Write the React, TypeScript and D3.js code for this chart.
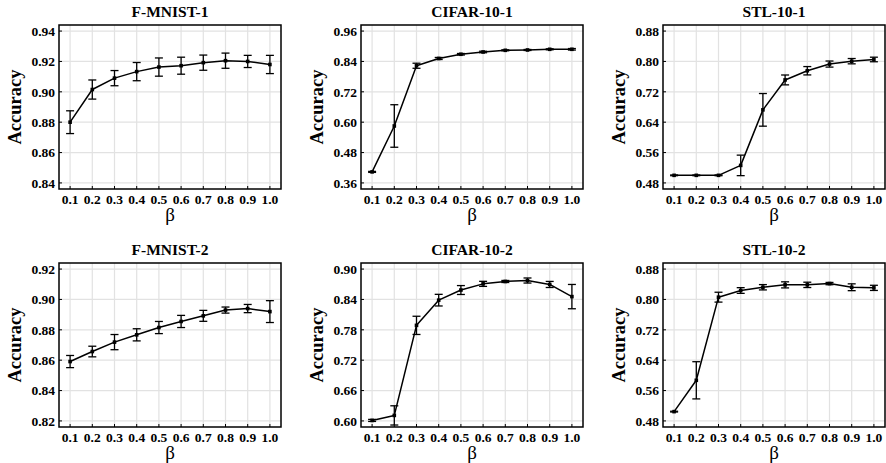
import React from 'react';
import * as d3 from 'd3';

const width = 886;
const height = 463;

const betas = [0.1, 0.2, 0.3, 0.4, 0.5, 0.6, 0.7, 0.8, 0.9, 1.0];

const fmnist1Mean = [0.880, 0.9015, 0.909, 0.9133, 0.9163, 0.9172, 0.9192, 0.9205, 0.920, 0.918];
const fmnist1Err = [0.0075, 0.0063, 0.005, 0.006, 0.006, 0.0056, 0.005, 0.005, 0.004, 0.006];
const fmnist1Ticks = [0.84, 0.86, 0.88, 0.90, 0.92, 0.94];

const cifar1Mean = [0.4036, 0.585, 0.823, 0.8517, 0.8684, 0.8774, 0.884, 0.8853, 0.888, 0.888];
const cifar1Err = [0.002, 0.084, 0.01, 0.004, 0.003, 0.003, 0.002, 0.002, 0.002, 0.003];
const cifar1Ticks = [0.36, 0.48, 0.60, 0.72, 0.84, 0.96];

const stl1Mean = [0.50, 0.50, 0.50, 0.5262, 0.6725, 0.7513, 0.7755, 0.7931, 0.8007, 0.8052];
const stl1Err = [0.001, 0.001, 0.001, 0.027, 0.043, 0.013, 0.011, 0.008, 0.007, 0.006];
const stl1Ticks = [0.48, 0.56, 0.64, 0.72, 0.80, 0.88];

const fmnist2Mean = [0.8591, 0.8657, 0.8719, 0.8767, 0.8815, 0.8855, 0.8892, 0.893, 0.894, 0.892];
const fmnist2Err = [0.004, 0.0035, 0.005, 0.004, 0.004, 0.004, 0.0036, 0.002, 0.0027, 0.0072];
const fmnist2Ticks = [0.82, 0.84, 0.86, 0.88, 0.90, 0.92];

const cifar2Mean = [0.601, 0.6109, 0.7888, 0.8386, 0.8586, 0.8708, 0.8755, 0.8774, 0.8696, 0.8456];
const cifar2Err = [0.002, 0.019, 0.018, 0.0115, 0.0088, 0.005, 0.002, 0.005, 0.006, 0.024];
const cifar2Ticks = [0.60, 0.66, 0.72, 0.78, 0.84, 0.90];

const stl2Mean = [0.5045, 0.587, 0.806, 0.8235, 0.8321, 0.8384, 0.8384, 0.8418, 0.8321, 0.8305];
const stl2Err = [0.001, 0.049, 0.013, 0.0075, 0.007, 0.008, 0.007, 0.003, 0.009, 0.0068];
const stl2Ticks = [0.48, 0.56, 0.64, 0.72, 0.80, 0.88];

const panels = [
  { title: 'F-MNIST-1', mean: fmnist1Mean, err: fmnist1Err, ticks: fmnist1Ticks },
  { title: 'CIFAR-10-1', mean: cifar1Mean, err: cifar1Err, ticks: cifar1Ticks },
  { title: 'STL-10-1', mean: stl1Mean, err: stl1Err, ticks: stl1Ticks },
  { title: 'F-MNIST-2', mean: fmnist2Mean, err: fmnist2Err, ticks: fmnist2Ticks },
  { title: 'CIFAR-10-2', mean: cifar2Mean, err: cifar2Err, ticks: cifar2Ticks },
  { title: 'STL-10-2', mean: stl2Mean, err: stl2Err, ticks: stl2Ticks },
];

const colLeft = [59, 361, 663];
const rowTop = [25, 263];
const plotW = 222;
const plotH = 164;
const font = '"Liberation Serif", "Times New Roman", serif';

const Panel = ({ p, left, top }) => {
  const t0 = p.ticks[0];
  const t1 = p.ticks[p.ticks.length - 1];
  const pad = (t1 - t0) * 0.04;
  const x = d3.scaleLinear().domain([0.05, 1.05]).range([0, plotW]);
  const y = d3.scaleLinear().domain([t0 - pad, t1 + pad]).range([plotH, 0]);
  const fmt = d3.format('.2f');
  const line = d3.line<number>()
    .x((d, i) => x(betas[i]))
    .y(d => y(d));

  return (
    <g transform={`translate(${left},${top})`}>
      {betas.map(b => (
        <line key={'gx' + b} x1={x(b)} x2={x(b)} y1={0} y2={plotH} stroke="#e2e2e2" strokeWidth={1.2} />
      ))}
      {p.ticks.map(t => (
        <line key={'gy' + t} x1={0} x2={plotW} y1={y(t)} y2={y(t)} stroke="#e2e2e2" strokeWidth={1.2} />
      ))}
      {betas.map(b => (
        <line key={'tx' + b} x1={x(b)} x2={x(b)} y1={plotH} y2={plotH - 3} stroke="#000" strokeWidth={1} />
      ))}
      {p.ticks.map(t => (
        <line key={'ty' + t} x1={0} x2={3} y1={y(t)} y2={y(t)} stroke="#000" strokeWidth={1} />
      ))}
      <path d={line(p.mean)} fill="none" stroke="#000" strokeWidth={1.5} strokeLinejoin="round" />
      {p.mean.map((m, i) => {
        const cx = x(betas[i]);
        const yt = y(m + p.err[i]);
        const yb = y(m - p.err[i]);
        return (
          <g key={'e' + i}>
            <line x1={cx} x2={cx} y1={yt} y2={yb} stroke="#000" strokeWidth={1.3} />
            <line x1={cx - 4} x2={cx + 4} y1={yt} y2={yt} stroke="#000" strokeWidth={1.3} />
            <line x1={cx - 4} x2={cx + 4} y1={yb} y2={yb} stroke="#000" strokeWidth={1.3} />
            <rect x={cx - 1.8} y={y(m) - 1.8} width={3.6} height={3.6} fill="#000" />
          </g>
        );
      })}
      <rect x={0} y={0} width={plotW} height={plotH} fill="none" stroke="#000" strokeWidth={1.5} />
      {p.ticks.map(t => (
        <text key={'ly' + t} x={-4} y={y(t)} dy="0.35em" textAnchor="end"
          fontFamily={font} fontWeight="bold" fontSize={13.5}>{fmt(t)}</text>
      ))}
      {betas.map(b => (
        <text key={'lx' + b} x={x(b)} y={plotH + 14.5} textAnchor="middle"
          fontFamily={font} fontWeight="bold" fontSize={13.5}>{b.toFixed(1)}</text>
      ))}
      <text x={plotW / 2} y={-8} textAnchor="middle" fontFamily={font} fontWeight="bold" fontSize={15.5}>{p.title}</text>
      <text x={plotW / 2} y={plotH + 32} textAnchor="middle" fontFamily={font} fontSize={19}>β</text>
      <text transform={`translate(${-38},${plotH / 2}) rotate(-90)`} textAnchor="middle"
        fontFamily={font} fontWeight="bold" fontSize={18.5}>Accuracy</text>
    </g>
  );
};

const App = () => (
  <svg width={width} height={height} style={{ position: 'absolute', left: 0, top: 0, background: '#fff' }}>
    {panels.map((p, i) => (
      <Panel key={p.title} p={p} left={colLeft[i % 3]} top={rowTop[Math.floor(i / 3)]} />
    ))}
  </svg>
);

export default App;
